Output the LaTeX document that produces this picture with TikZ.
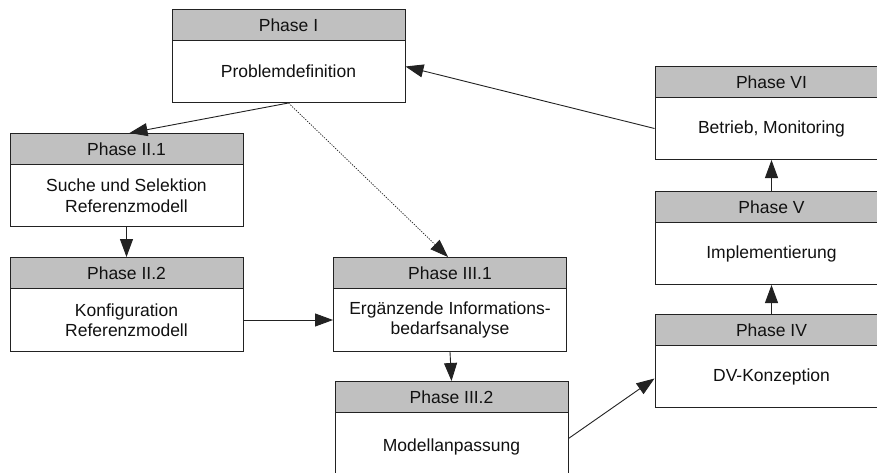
\documentclass[tikz,border=0pt]{standalone}
\usepackage{fontspec}
\setmainfont{Liberation Sans}
\usetikzlibrary{arrows.meta}
\definecolor{headgray}{HTML}{C0C0C0}
\definecolor{edgegray}{HTML}{222222}
\definecolor{textgray}{HTML}{111111}
\tikzset{
  phasehead/.style={draw=edgegray, fill=headgray, line width=1pt,
    minimum width=233pt, minimum height=31pt, inner sep=0pt, anchor=north,
    text=textgray, font=\fontsize{17.5}{20.5}\selectfont},
  phasebody/.style={draw=edgegray, fill=white, line width=1pt,
    minimum width=233pt, minimum height=62pt, inner sep=0pt, anchor=north,
    align=center, text=textgray, font=\fontsize{17.5}{20.5}\selectfont},
  flow/.style={draw=edgegray, line width=0.9pt,
    -{Triangle[length=18pt,width=13pt]}},
  flowdotted/.style={flow, line width=0.7pt, dash pattern=on 1.3pt off 1.3pt}
}
\begin{document}
\begin{tikzpicture}[x=1pt,y=-1pt]
\clip (0,0) rectangle (877,473);
\fill[white] (0,0) rectangle (877,473);

% Phase I
\node[phasebody] (p1b) at (288.5,40) {Problemdefinition};
\node[phasehead] (p1h) at (288.5,9) {Phase I};

% Phase II.1 and II.2
\node[phasebody] (p21b) at (126.5,164) {Suche und Selektion\\Referenzmodell};
\node[phasehead] (p21h) at (126.5,133) {Phase II.1};
\node[phasebody, minimum height=63pt] (p22b) at (126.5,288) {Konfiguration\\Referenzmodell};
\node[phasehead] (p22h) at (126.5,257) {Phase II.2};

% Phase III.1 and III.2
\node[phasebody, minimum height=63pt] (p31b) at (450,288) {Ergänzende Informations-\\bedarfsanalyse};
\node[phasehead] (p31h) at (450,257) {Phase III.1};
\node[phasebody, minimum height=68pt] (p32b) at (451.5,412) {Modellanpassung};
\node[phasehead] (p32h) at (451.5,381) {Phase III.2};

% Phase IV to VI
\node[phasebody] (p4b) at (771.5,345) {DV-Konzeption};
\node[phasehead] (p4h) at (771.5,314) {Phase IV};
\node[phasebody] (p5b) at (771.5,222) {Implementierung};
\node[phasehead] (p5h) at (771.5,191) {Phase V};
\node[phasebody] (p6b) at (771.5,97) {Betrieb, Monitoring};
\node[phasehead] (p6h) at (771.5,66) {Phase VI};

% connectors
\draw[flow] (p1b.south) -- ([xshift=3pt]p21h.north);
\draw[flowdotted] (p1b.south) -- ([xshift=-2pt]p31h.north);
\draw[flow] (p21b.south) -- (p22h.north);
\draw[flow] (p22b.east) -- (p31b.west);
\draw[flow] (p31b.south) -- (p32h.north);
\draw[flow] ([yshift=8pt]p32b.east) -- ([yshift=-2pt]p4b.west);
\draw[flow] (p4h.north) -- (p5b.south);
\draw[flow] (p5h.north) -- (p6b.south);
\draw[flow] (p6b.west) -- ([yshift=5pt]p1b.east);
\end{tikzpicture}
\end{document}
